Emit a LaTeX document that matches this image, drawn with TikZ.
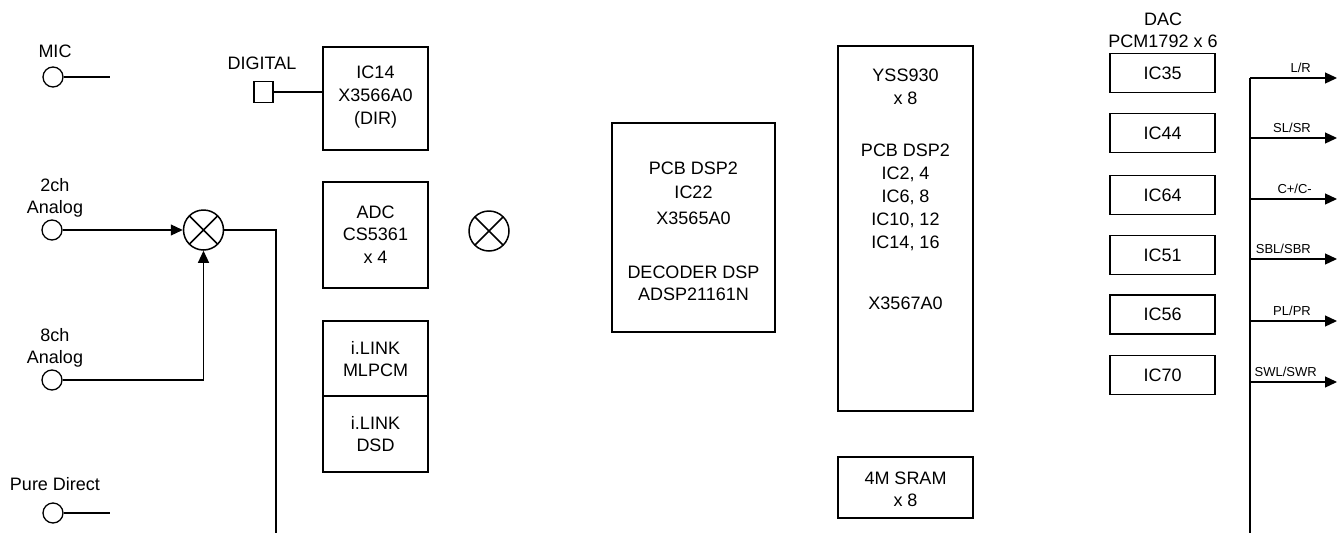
\documentclass[tikz,border=0pt]{standalone}
\usepackage{fontspec}
\setmainfont{Liberation Sans}
\usetikzlibrary{arrows.meta}
\begin{document}
\begin{tikzpicture}[x=1pt,y=-1pt,
  lbl/.style={inner sep=0pt, text height=12.9pt, text depth=0pt, font=\fontsize{18}{22}\selectfont},
  small/.style={inner sep=0pt, text height=9.3pt, text depth=0pt, font=\fontsize{13}{15}\selectfont, anchor=east},
  box/.style={draw, line width=1.5pt, rectangle, inner sep=0pt},
  term/.style={draw, line width=1.3pt, circle, inner sep=0pt, minimum size=20pt},
  mixer/.style={draw, line width=1.5pt, circle, inner sep=0pt, minimum size=40pt,
    path picture={\draw[line width=1.5pt] (path picture bounding box.north west) -- (path picture bounding box.south east)
      (path picture bounding box.north east) -- (path picture bounding box.south west);}},
  conn/.style={line width=1.2pt},
  arr/.style={line width=1.2pt, -{Triangle[length=12pt,width=11pt]}}]
\useasboundingbox (0,0) rectangle (1340,533);

% ---- left inputs ----
\node[lbl] (micl) at (55,51) {MIC};
\node[term] (mic) at (53,77) {};
\coordinate (micend) at (110,77);
\draw[conn] (mic.east) -- (micend);

\node[lbl] (digl) at (262,63) {DIGITAL};
\node[box, line width=1.3pt, minimum width=19pt, minimum height=21pt] (dig) at (263.5,92) {};

\node[box, minimum width=105pt, minimum height=103pt] (ic14) at (375.5,98.5) {};
\node[lbl] (ic14a) at (375.5,72) {IC14};
\node[lbl] (ic14b) at (375.5,95) {X3566A0};
\node[lbl] (ic14c) at (375.5,118) {(DIR)};
\draw[conn] (dig.east) -- (dig.east -| ic14.west);

\node[box, minimum width=105pt, minimum height=106pt] (adc) at (375.5,235) {};
\node[lbl] (adca) at (375.5,212) {ADC};
\node[lbl] (adcb) at (375.5,234) {CS5361};
\node[lbl] (adcc) at (375.5,257) {x 4};

\node[box, minimum width=105pt, minimum height=75pt] (ilink1) at (375.5,358.5) {};
\node[box, minimum width=105pt, minimum height=76pt] (ilink2) at (375.5,434) {};
\node[lbl] (il1a) at (375.5,348) {i.LINK};
\node[lbl] (il1b) at (375.5,370) {MLPCM};
\node[lbl] (il2a) at (375.5,423) {i.LINK};
\node[lbl] (il2b) at (375.5,445) {DSD};

\node[lbl] (a2l1) at (55,185) {2ch};
\node[lbl] (a2l2) at (55,207) {Analog};
\node[term] (a2) at (52,230) {};
\node[mixer] (mix) at (203.5,230) {};
\draw[arr] (a2.east) -- (mix.west);

\node[lbl] (a8l1) at (55,335) {8ch};
\node[lbl] (a8l2) at (55,357) {Analog};
\node[term] (a8) at (52,380) {};
\draw[arr] (a8.east) -| (mix.south);

\coordinate (mixout) at (276,533);
\draw[conn] (mix.east) -| (mixout);

\node[lbl] (pdl) at (55,484) {Pure Direct};
\node[term] (pd) at (53,513) {};
\coordinate (pdend) at (110,513);
\draw[conn] (pd.east) -- (pdend);

% ---- middle ----
\node[mixer] (mid) at (489,231) {};

\node[box, minimum width=163pt, minimum height=209pt] (dsp) at (693.5,227.5) {};
\node[lbl] (dspa) at (693.5,168) {PCB DSP2};
\node[lbl] (dspb) at (693.5,192) {IC22};
\node[lbl] (dspc) at (693.5,218) {X3565A0};
\node[lbl] (dspd) at (693.5,272) {DECODER DSP};
\node[lbl] (dspe) at (693.5,294) {ADSP21161N};

\node[box, minimum width=135pt, minimum height=365pt] (yss) at (905.5,228.5) {};
\node[lbl] (yssa) at (905.5,75) {YSS930};
\node[lbl] (yssb) at (905.5,98) {x 8};
\node[lbl] (yssc) at (905.5,150) {PCB DSP2};
\node[lbl] (yssd) at (905.5,173) {IC2, 4};
\node[lbl] (ysse) at (905.5,196) {IC6, 8};
\node[lbl] (yssf) at (905.5,219) {IC10, 12};
\node[lbl] (yssg) at (905.5,242) {IC14, 16};
\node[lbl] (yssh) at (905.5,303) {X3567A0};

\node[box, minimum width=135pt, minimum height=61pt] (sram) at (905.5,487.5) {};
\node[lbl] (srama) at (905.5,478) {4M SRAM};
\node[lbl] (sramb) at (905.5,500) {x 8};

% ---- right DAC ----
\node[lbl] (dacl1) at (1163,19) {DAC};
\node[lbl] (dacl2) at (1163,41) {PCM1792 x 6};
\foreach \n/\y in {35/73, 44/133, 64/195, 51/255, 56/314.5, 70/375} {
  \node[box, minimum width=105pt, minimum height=39pt] (ic\n) at (1162.5,\y) {};
  \node[lbl] (ic\n t) at (1162.5,\y) {IC\n};
}

\coordinate (bustop) at (1250,78);
\coordinate (busbot) at (1250,533);
\draw[conn] (bustop) -- (busbot);
\foreach \nm/\y/\tx/\lab in {o1/78/1311/L\slash R, o2/138/1311/SL\slash SR, o3/199/1312/C+\slash C-, o4/259/1311/SBL\slash SBR, o5/321/1311/PL\slash PR, o6/382/1317/SWL\slash SWR} {
  \coordinate (\nm s) at (1250,\y);
  \coordinate (\nm e) at (1337,\y);
  \draw[arr] (\nm s) -- (\nm e);
  \node[small] (\nm l) at (\tx,\y-10) {\lab};
}
\end{tikzpicture}
\end{document}
